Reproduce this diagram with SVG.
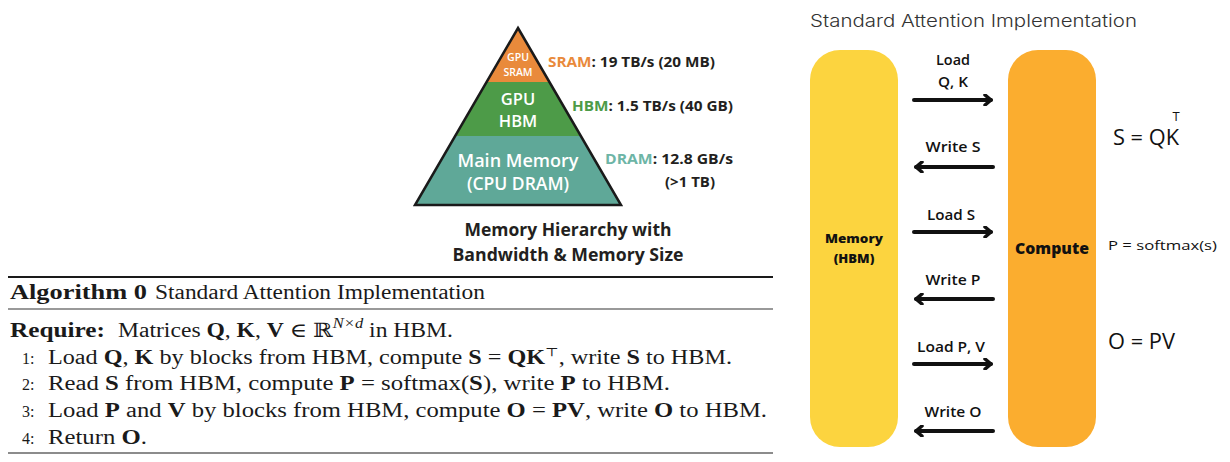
<svg xmlns="http://www.w3.org/2000/svg" width="1230" height="462" viewBox="0 0 1230 462">
<defs>
<style>
.pyr{font-family:"Open Sans","Liberation Sans",sans-serif;font-weight:600;fill:#fff;text-anchor:middle}
.bw{font-family:"Open Sans","Liberation Sans",sans-serif;font-weight:700;font-size:15px;fill:#231f20}
.cap{font-family:"Open Sans","Liberation Sans",sans-serif;font-weight:700;font-size:17.5px;fill:#231f20;text-anchor:middle}
.alg{font-family:"Liberation Serif","DejaVu Serif",serif;font-size:20px;fill:#1a1a1a}
.num{font-family:"Liberation Serif","DejaVu Serif",serif;font-size:16px;fill:#1a1a1a}
.b{font-weight:bold}
.lbl{font-family:"Open Sans","Liberation Sans",sans-serif;font-weight:600;font-size:14.5px;fill:#111;text-anchor:middle}
.bar{font-family:"Open Sans","Liberation Sans",sans-serif;font-weight:800;fill:#111;text-anchor:middle}
.eq{font-family:"Open Sans","Liberation Sans",sans-serif;font-weight:500;fill:#111}
.conn{fill:none;stroke:#111;stroke-width:4;stroke-linecap:round;marker-end:url(#ah)}
</style>
<marker id="ah" viewBox="0 0 10 12" refX="8" refY="6" markerWidth="10" markerHeight="12" orient="auto" markerUnits="userSpaceOnUse">
<path d="M2,1 L8,6 L2,11" fill="none" stroke="#111" stroke-width="3.5" stroke-linecap="round" stroke-linejoin="round"/>
</marker>
</defs>
<rect width="1230" height="462" fill="#fff"/>

<!-- Pyramid -->
<g id="pyramid">
<g id="tier-sram">
<polygon points="518,28 549,82 487,82" fill="#E98A3B"/>
<text class="pyr" x="518" y="61" font-size="10.5">GPU</text>
<text class="pyr" x="518" y="76" font-size="10.5">SRAM</text>
</g>
<g id="tier-hbm">
<polygon points="487,82 549,82 580,136 456,136" fill="#4D9B48"/>
<text class="pyr" x="518" y="105" font-size="16.5">GPU</text>
<text class="pyr" x="518" y="127" font-size="16.5">HBM</text>
</g>
<g id="tier-dram">
<polygon points="456,136 580,136 621,205 415,205" fill="#5FA898"/>
<text class="pyr" x="518" y="167" font-size="17.5" textLength="121" lengthAdjust="spacingAndGlyphs">Main Memory</text>
<text class="pyr" x="518" y="190" font-size="17.5">(CPU DRAM)</text>
</g>
<polygon points="518,28 621,205 415,205" fill="none" stroke="#1a1a1a" stroke-width="2.5" stroke-linejoin="miter"/>
</g>

<g id="bandwidth-labels">
<text class="bw" x="548" y="67" textLength="167" lengthAdjust="spacingAndGlyphs"><tspan fill="#E98A3B">SRAM</tspan>: 19 TB/s (20 MB)</text>
<text class="bw" x="572" y="111" textLength="161" lengthAdjust="spacingAndGlyphs"><tspan fill="#4D9B48">HBM</tspan>: 1.5 TB/s (40 GB)</text>
<text class="bw" x="605" y="164" textLength="128" lengthAdjust="spacingAndGlyphs"><tspan fill="#6DB5A6">DRAM</tspan>: 12.8 GB/s</text>
<text class="bw" x="665" y="187" textLength="50" lengthAdjust="spacingAndGlyphs">(&gt;1 TB)</text>
</g>

<g id="caption">
<text class="cap" x="568" y="236" textLength="207" lengthAdjust="spacingAndGlyphs">Memory Hierarchy with</text>
<text class="cap" x="568" y="261" textLength="231" lengthAdjust="spacingAndGlyphs">Bandwidth &amp; Memory Size</text>
</g>

<!-- Algorithm -->
<g id="algorithm">
<line x1="8" y1="277" x2="773" y2="277" stroke="#1a1a1a" stroke-width="2"/>
<text class="alg b" x="10" y="299" textLength="137" lengthAdjust="spacingAndGlyphs">Algorithm 0</text>
<text class="alg" x="155" y="299" font-size="17" textLength="330" lengthAdjust="spacingAndGlyphs">Standard Attention Implementation</text>
<line x1="8" y1="309" x2="773" y2="309" stroke="#777" stroke-width="1.5"/>
<text class="alg b" x="10" y="337" textLength="95" lengthAdjust="spacingAndGlyphs">Require:</text>
<text class="alg" x="118" y="337" textLength="335" lengthAdjust="spacingAndGlyphs">Matrices <tspan class="b">Q</tspan>, <tspan class="b">K</tspan>, <tspan class="b">V</tspan> ∈ ℝ<tspan dy="-9" font-size="14" font-style="italic">N×d</tspan><tspan dy="9"> in HBM.</tspan></text>
<text class="num" x="22" y="364">1:</text>
<text class="alg" x="48" y="364" textLength="684" lengthAdjust="spacingAndGlyphs">Load <tspan class="b">Q</tspan>, <tspan class="b">K</tspan> by blocks from HBM, compute <tspan class="b">S</tspan> = <tspan class="b">QK</tspan><tspan dy="-8" font-size="12">⊤</tspan><tspan dy="8">, write </tspan><tspan class="b">S</tspan> to HBM.</text>
<text class="num" x="22" y="390">2:</text>
<text class="alg" x="48" y="390" textLength="622" lengthAdjust="spacingAndGlyphs">Read <tspan class="b">S</tspan> from HBM, compute <tspan class="b">P</tspan> = softmax(<tspan class="b">S</tspan>), write <tspan class="b">P</tspan> to HBM.</text>
<text class="num" x="22" y="417">3:</text>
<text class="alg" x="48" y="417" textLength="719" lengthAdjust="spacingAndGlyphs">Load <tspan class="b">P</tspan> and <tspan class="b">V</tspan> by blocks from HBM, compute <tspan class="b">O</tspan> = <tspan class="b">PV</tspan>, write <tspan class="b">O</tspan> to HBM.</text>
<text class="num" x="22" y="444">4:</text>
<text class="alg" x="48" y="444" textLength="99" lengthAdjust="spacingAndGlyphs">Return <tspan class="b">O</tspan>.</text>
<line x1="8" y1="453" x2="773" y2="453" stroke="#666" stroke-width="1.5"/>
</g>

<!-- Right panel -->
<text id="title" x="810" y="27" font-family="Inter,'Liberation Sans',sans-serif" font-weight="300" font-size="17" fill="#333" textLength="327" lengthAdjust="spacingAndGlyphs">Standard Attention Implementation</text>

<g id="memory">
<rect x="810" y="50" width="88" height="397" rx="30" fill="#FCD43F"/>
<text class="bar" x="854" y="243" font-size="13" textLength="58" lengthAdjust="spacingAndGlyphs">Memory</text>
<text class="bar" x="854" y="263" font-size="13">(HBM)</text>
</g>

<g id="compute">
<rect x="1008" y="50" width="88" height="397" rx="30" fill="#FBAD2F"/>
<text class="bar" x="1052" y="254" font-size="15.5" textLength="74" lengthAdjust="spacingAndGlyphs">Compute</text>
</g>

<g id="connectors">
<path class="conn" d="M914,100 H991"/>
<path class="conn" d="M993,167 H916"/>
<path class="conn" d="M914,232 H991"/>
<path class="conn" d="M993,299 H916"/>
<path class="conn" d="M914,364 H991"/>
<path class="conn" d="M993,431 H916"/>
</g>

<g id="connector-labels">
<text class="lbl" x="953" y="65" textLength="34" lengthAdjust="spacingAndGlyphs">Load</text>
<text class="lbl" x="953" y="87" textLength="30" lengthAdjust="spacingAndGlyphs">Q, K</text>
<text class="lbl" x="953" y="152" textLength="55" lengthAdjust="spacingAndGlyphs">Write S</text>
<text class="lbl" x="951" y="220" textLength="48" lengthAdjust="spacingAndGlyphs">Load S</text>
<text class="lbl" x="953" y="285" textLength="55" lengthAdjust="spacingAndGlyphs">Write P</text>
<text class="lbl" x="951" y="352" textLength="68" lengthAdjust="spacingAndGlyphs">Load P, V</text>
<text class="lbl" x="953" y="417" textLength="57" lengthAdjust="spacingAndGlyphs">Write O</text>
</g>

<g id="equations">
<text class="eq" x="1113" y="145" font-size="21" textLength="66" lengthAdjust="spacingAndGlyphs">S = QK</text>
<text class="eq" x="1176" y="121" font-size="13" text-anchor="middle">T</text>
<text class="eq" x="1108" y="250" font-size="13.5" textLength="109" lengthAdjust="spacingAndGlyphs">P = softmax(s)</text>
<text class="eq" x="1108" y="349" font-size="21" textLength="67" lengthAdjust="spacingAndGlyphs">O = PV</text>
</g>
</svg>
